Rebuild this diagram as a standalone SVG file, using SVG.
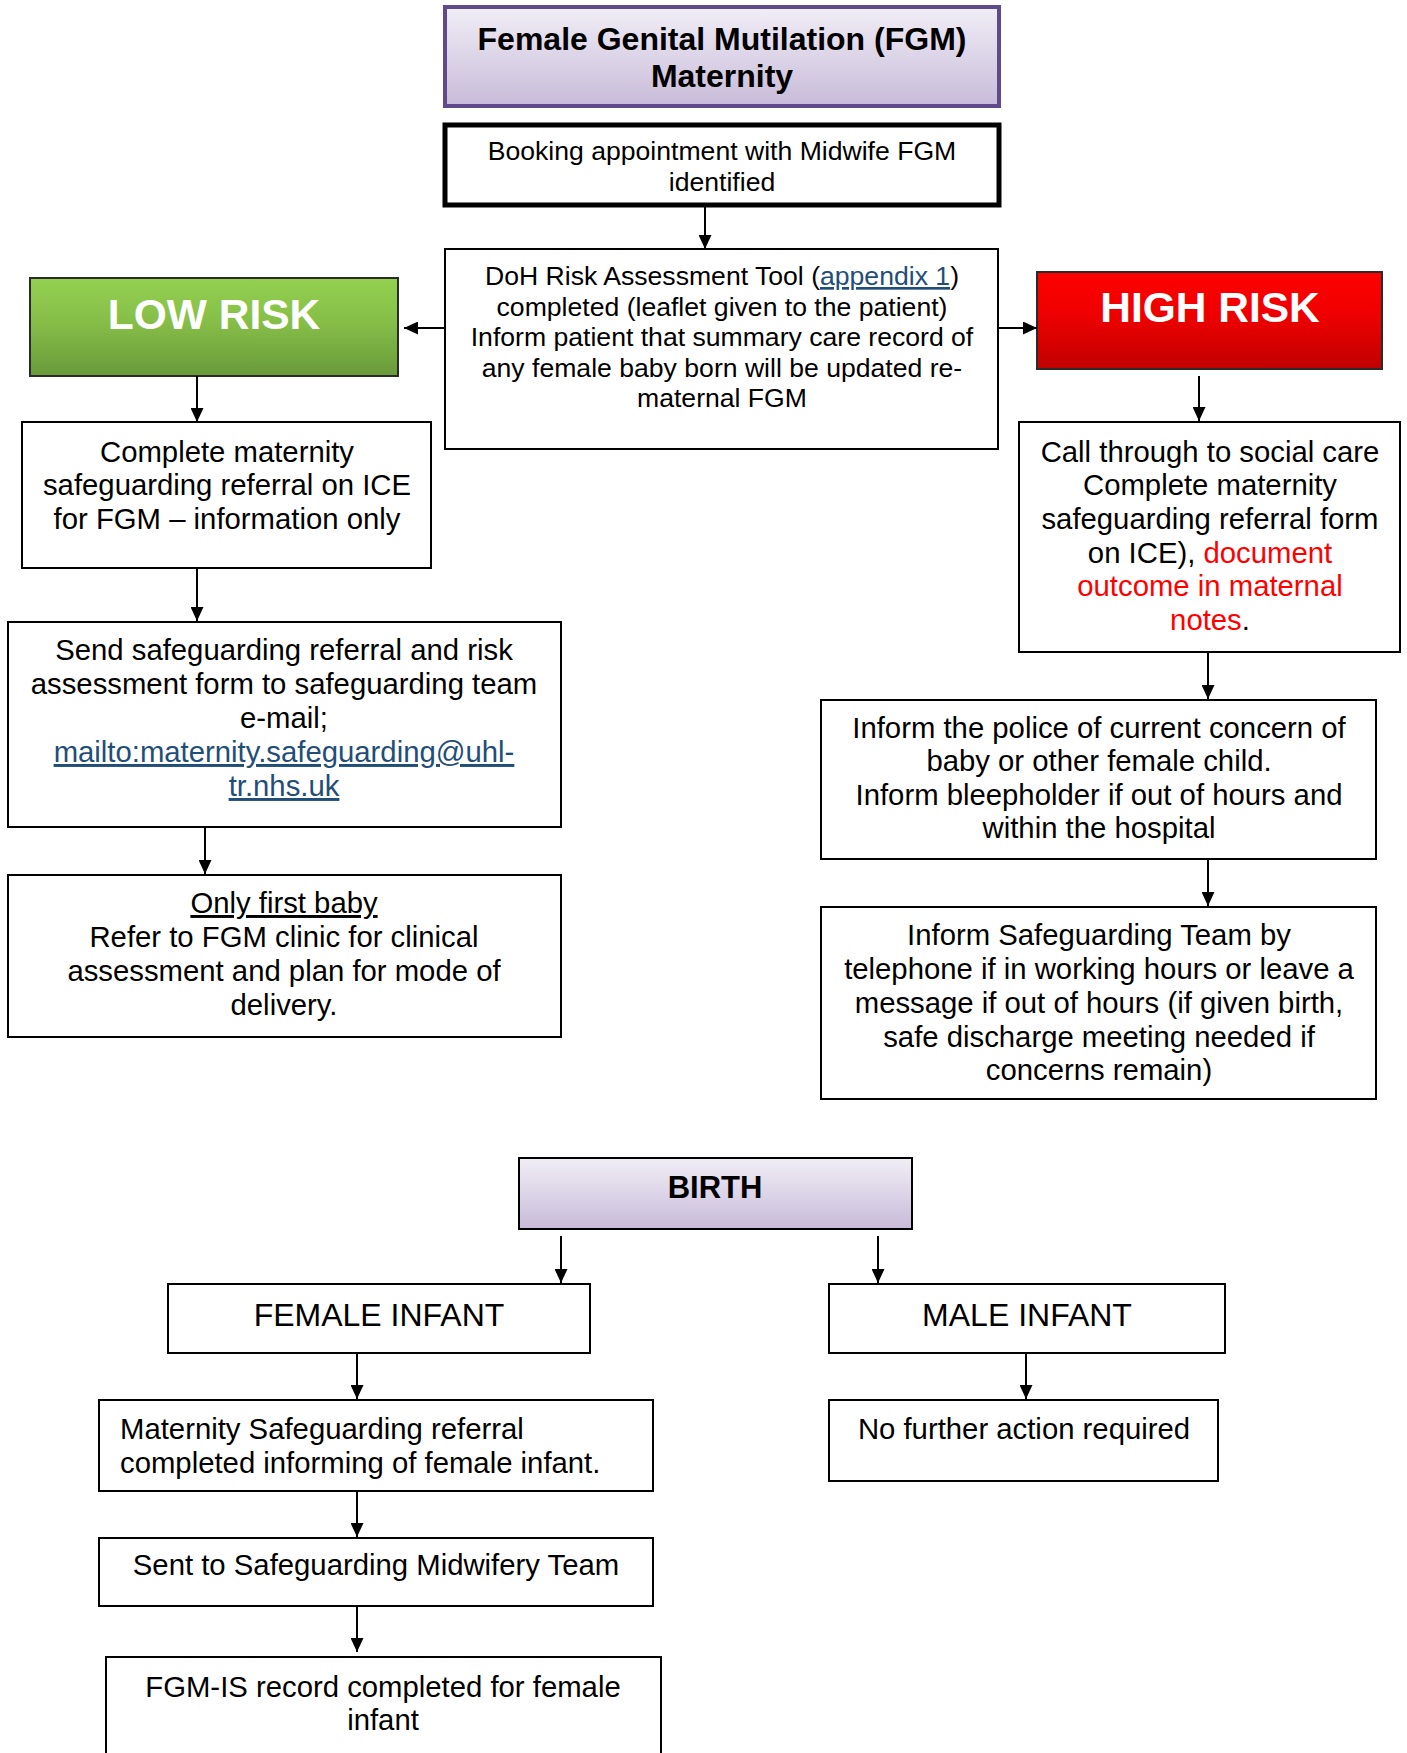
<svg xmlns="http://www.w3.org/2000/svg" width="1407" height="1753" viewBox="0 0 1407 1753">
<style>
text{font-family:"Liberation Sans",Arial,sans-serif;fill:#000;text-anchor:middle}
text.left{text-anchor:start}
.box{fill:#fff;stroke:#000;stroke-width:2}
.b26{font-size:26.6px}
.b29{font-size:29.3px}
.b32{font-size:32px}
.hd{font-weight:bold}
.risk{font-size:42.5px;font-weight:bold;fill:#fff}
.link{fill:#1f4e79;text-decoration:underline}
.red{fill:#ff0000}
.conn line{stroke:#000;stroke-width:2;marker-end:url(#arr)}
</style>
<defs>
<marker id="arr" markerUnits="userSpaceOnUse" markerWidth="14" markerHeight="13" refX="14" refY="6.5" orient="auto">
<path d="M0,0 L14,6.5 L0,13 z" fill="#000"/>
</marker>
<linearGradient id="lav" x1="0" y1="0" x2="0" y2="1">
<stop offset="0" stop-color="#f1eef6"/>
<stop offset="1" stop-color="#c8bbd9"/>
</linearGradient>
<linearGradient id="grn" x1="0" y1="0" x2="0" y2="1">
<stop offset="0" stop-color="#93d150"/>
<stop offset="0.45" stop-color="#86be48"/>
<stop offset="1" stop-color="#689a3a"/>
</linearGradient>
<linearGradient id="rd" x1="0" y1="0" x2="0" y2="1">
<stop offset="0" stop-color="#ff0000"/>
<stop offset="0.45" stop-color="#ee0000"/>
<stop offset="1" stop-color="#c00000"/>
</linearGradient>
</defs>

<g id="title">
<rect x="445" y="7" width="554" height="99" fill="url(#lav)" stroke="#5f4b8b" stroke-width="4"/>
<text class="b32 hd" x="722" y="50">Female Genital Mutilation (FGM)</text>
<text class="b32 hd" x="722" y="87">Maternity</text>
</g>

<g id="booking">
<rect x="445" y="125" width="554" height="80" fill="#fff" stroke="#000" stroke-width="5"/>
<text class="b26" x="722" y="160">Booking appointment with Midwife FGM</text>
<text class="b26" x="722" y="191">identified</text>
</g>

<g id="doh">
<rect class="box" x="445" y="249" width="553" height="200"/>
<text class="b26" x="722" y="285">DoH Risk Assessment Tool (<tspan class="link">appendix 1</tspan>)</text>
<text class="b26" x="722" y="315.6">completed (leaflet given to the patient)</text>
<text class="b26" x="722" y="346.2">Inform patient that summary care record of</text>
<text class="b26" x="722" y="376.8">any female baby born will be updated re-</text>
<text class="b26" x="722" y="407.4">maternal FGM</text>
</g>

<g id="lowrisk">
<rect x="30" y="278" width="368" height="98" fill="url(#grn)" stroke="#2b2b2b" stroke-width="2"/>
<text class="risk" x="214" y="329">LOW RISK</text>
</g>

<g id="highrisk">
<rect x="1037" y="272" width="345" height="97" fill="url(#rd)" stroke="#2b2b2b" stroke-width="2"/>
<text class="risk" x="1210" y="322">HIGH RISK</text>
</g>

<g id="complete">
<rect class="box" x="22" y="422" width="409" height="146"/>
<text class="b29" x="227" y="461.5">Complete maternity</text>
<text class="b29" x="227" y="495">safeguarding referral on ICE</text>
<text class="b29" x="227" y="528.7">for FGM – information only</text>
</g>

<g id="send">
<rect class="box" x="8" y="622" width="553" height="205"/>
<text class="b29" x="284" y="660">Send safeguarding referral and risk</text>
<text class="b29" x="284" y="694">assessment form to safeguarding team</text>
<text class="b29" x="284" y="728">e-mail;</text>
<text class="b29 link" x="284" y="762">mailto:maternity.safeguarding@uhl-</text>
<text class="b29 link" x="284" y="796">tr.nhs.uk</text>
</g>

<g id="firstbaby">
<rect class="box" x="8" y="875" width="553" height="162"/>
<text class="b29" x="284" y="913" text-decoration="underline">Only first baby</text>
<text class="b29" x="284" y="947">Refer to FGM clinic for clinical</text>
<text class="b29" x="284" y="981">assessment and plan for mode of</text>
<text class="b29" x="284" y="1015">delivery.</text>
</g>

<g id="call">
<rect class="box" x="1019" y="422" width="381" height="230"/>
<text class="b29" x="1210" y="461.5">Call through to social care</text>
<text class="b29" x="1210" y="495">Complete maternity</text>
<text class="b29" x="1210" y="529">safeguarding referral form</text>
<text class="b29" x="1210" y="562.5">on ICE), <tspan class="red">document</tspan></text>
<text class="b29 red" x="1210" y="596">outcome in maternal</text>
<text class="b29" x="1210" y="630"><tspan class="red">notes</tspan>.</text>
</g>

<g id="police">
<rect class="box" x="821" y="700" width="555" height="159"/>
<text class="b29" x="1099" y="737.6">Inform the police of current concern of</text>
<text class="b29" x="1099" y="771">baby or other female child.</text>
<text class="b29" x="1099" y="805">Inform bleepholder if out of hours and</text>
<text class="b29" x="1099" y="838">within the hospital</text>
</g>

<g id="informsg">
<rect class="box" x="821" y="907" width="555" height="192"/>
<text class="b29" x="1099" y="945">Inform Safeguarding Team by</text>
<text class="b29" x="1099" y="979">telephone if in working hours or leave a</text>
<text class="b29" x="1099" y="1013">message if out of hours (if given birth,</text>
<text class="b29" x="1099" y="1046.5">safe discharge meeting needed if</text>
<text class="b29" x="1099" y="1080">concerns remain)</text>
</g>

<g id="birth">
<rect x="519" y="1158" width="393" height="71" fill="url(#lav)" stroke="#000" stroke-width="2"/>
<text class="hd" x="715" y="1198" font-size="31">BIRTH</text>
</g>

<g id="female">
<rect class="box" x="168" y="1284" width="422" height="69"/>
<text class="b32" x="379" y="1326">FEMALE INFANT</text>
</g>

<g id="male">
<rect class="box" x="829" y="1284" width="396" height="69"/>
<text class="b32" x="1027" y="1326">MALE INFANT</text>
</g>

<g id="nofurther">
<rect class="box" x="829" y="1400" width="389" height="81"/>
<text class="b29" x="1024" y="1439">No further action required</text>
</g>

<g id="matsg">
<rect class="box" x="99" y="1400" width="554" height="91"/>
<text class="b29 left" x="120" y="1439">Maternity Safeguarding referral</text>
<text class="b29 left" x="120" y="1473">completed informing of female infant.</text>
</g>

<g id="sent">
<rect class="box" x="99" y="1538" width="554" height="68"/>
<text class="b29" x="376" y="1575">Sent to Safeguarding Midwifery Team</text>
</g>

<g id="fgmis">
<rect class="box" x="106" y="1657" width="555" height="110"/>
<text class="b29" x="383" y="1696.5">FGM-IS record completed for female</text>
<text class="b29" x="383" y="1730">infant</text>
</g>

<g id="connectors" class="conn">
<line x1="705" y1="205" x2="705" y2="249"/>
<line x1="445" y1="328" x2="404" y2="328"/>
<line x1="999" y1="328" x2="1037" y2="328"/>
<line x1="197" y1="376" x2="197" y2="422"/>
<line x1="197" y1="568" x2="197" y2="621"/>
<line x1="205" y1="827" x2="205" y2="874"/>
<line x1="1199" y1="376" x2="1199" y2="421"/>
<line x1="1208" y1="652" x2="1208" y2="699"/>
<line x1="1208" y1="859" x2="1208" y2="906"/>
<line x1="561" y1="1236" x2="561" y2="1283"/>
<line x1="878" y1="1236" x2="878" y2="1283"/>
<line x1="357" y1="1353" x2="357" y2="1399"/>
<line x1="357" y1="1491" x2="357" y2="1537"/>
<line x1="357" y1="1606" x2="357" y2="1652"/>
<line x1="1026" y1="1353" x2="1026" y2="1399"/>
</g>
</svg>
